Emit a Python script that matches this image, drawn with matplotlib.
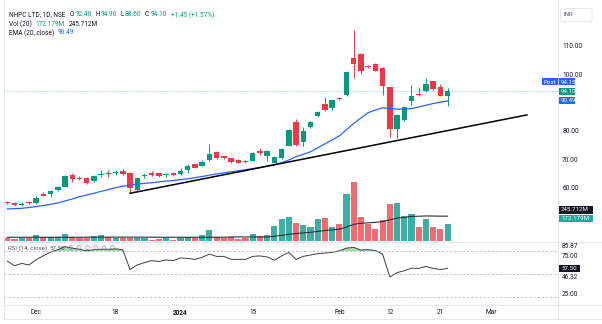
import matplotlib
matplotlib.use('Agg')
import matplotlib.pyplot as plt
from matplotlib.patches import Rectangle, FancyBboxPatch
import numpy as np

# daily candles, NHPC (NSE), Nov 24 2023 .. Feb 22 2024
opens = [55.0, 54.6, 53.9, 55.0, 54.6, 57.6, 57.6, 59.0, 60.3, 64.3,
         63.5, 63.5, 62.3, 64.6, 65.3, 65.3, 66.0, 65.3, 59.2, 64.1,
         65.3, 65.0, 64.5, 65.0, 64.8, 66.1, 68.2, 67.7, 69.7, 72.6,
         71.0, 70.3, 69.7, 69.5, 69.5, 72.9, 71.2, 68.8, 70.3, 74.8,
         83.2, 76.2, 81.2, 85.2, 89.4, 87.9, 91.7, 92.6, 105.5, 106.9,
         102.8, 103.6, 102.0, 95.3, 80.6, 83.8, 90.5, 93.0, 94.0, 97.4,
         95.5, 92.4]
highs = [55.4, 54.8, 55.1, 55.3, 57.0, 58.5, 59.1, 60.5, 64.4, 65.3,
         64.2, 63.8, 64.4, 66.3, 66.3, 66.3, 66.7, 65.6, 63.6, 65.2,
         66.0, 65.3, 65.3, 65.3, 66.8, 68.2, 68.4, 69.7, 75.2, 72.9,
         71.3, 70.6, 70.0, 69.7, 72.4, 74.0, 73.2, 71.2, 73.8, 80.6,
         84.0, 81.5, 83.4, 87.0, 91.8, 91.2, 91.9, 100.9, 115.5, 107.5,
         103.2, 103.9, 102.3, 95.6, 86.0, 88.6, 96.1, 95.5, 98.5, 97.7,
         96.4, 94.9]
lows = [54.3, 53.6, 53.7, 54.3, 54.4, 56.9, 56.8, 58.8, 60.1, 62.1,
        62.6, 61.3, 62.0, 63.8, 63.8, 64.6, 64.4, 58.0, 58.6, 63.4,
        64.2, 63.8, 63.9, 64.0, 64.6, 65.3, 66.8, 67.5, 69.5, 70.1,
        70.0, 68.5, 68.5, 68.7, 69.3, 71.4, 69.4, 68.5, 70.0, 74.5,
        74.6, 74.8, 81.0, 85.0, 87.0, 87.2, 91.0, 92.3, 98.5, 99.9,
        102.1, 100.9, 92.6, 77.7, 77.4, 83.5, 89.1, 92.2, 93.7, 94.3,
        92.1, 88.6]
closes = [54.6, 53.8, 54.4, 54.5, 56.2, 57.1, 58.8, 60.1, 64.1, 63.0,
          63.0, 61.7, 64.1, 64.8, 64.8, 65.5, 64.7, 59.8, 63.3, 64.6,
          64.6, 64.0, 64.7, 64.3, 66.0, 67.7, 67.0, 69.1, 71.8, 70.4,
          70.3, 68.9, 68.8, 68.9, 72.2, 72.3, 72.9, 70.9, 73.5, 80.3,
          75.0, 80.0, 83.1, 86.7, 87.3, 90.8, 91.2, 100.6, 103.4, 101.1,
          102.4, 101.2, 95.9, 80.6, 85.6, 88.3, 92.3, 92.5, 96.6, 94.6,
          92.4, 94.1]
volumes = [27, 23, 33, 27, 62, 40, 40, 40, 66, 40,
           33, 33, 50, 62, 40, 27, 33, 33, 33, 30,
           13, 16, 30, 13, 33, 40, 26, 56, 112, 40,
           26, 40, 20, 33, 66, 46, 56, 149, 215, 241,
           175, 160, 139, 221, 231, 139, 171, 470, 580, 235,
           165, 114, 211, 370, 378, 245, 270, 135, 215, 135,
           115, 172]  # millions
vol_ma = [37, 37, 37, 37, 37, 37, 37, 37, 37, 37,
          37, 38, 38, 38, 38, 38, 38, 38, 38, 38,
          38, 37, 37, 37, 37, 37, 37, 37, 37, 37,
          37, 40, 40, 40, 40, 40, 40, 47, 56, 66,
          74, 80, 86, 95, 104, 110, 117, 138, 165, 175,
          180, 184, 193, 210, 226, 234, 244, 245, 248, 247,
          246, 246]
ema20 = [52.5, 52.6, 52.7, 53.0, 53.3, 53.7, 54.1, 54.6, 55.3, 56.0,
         56.8, 57.4, 58.0, 58.7, 59.3, 60.0, 60.5, 60.9, 61.2, 61.5,
         61.7, 62.0, 62.3, 62.5, 62.8, 63.1, 63.5, 63.9, 64.4, 64.8,
         65.2, 65.6, 65.9, 66.3, 66.7, 67.1, 67.6, 68.1, 68.8, 69.7,
         70.9, 71.7, 72.6, 74.0, 75.4, 76.8, 78.2, 80.4, 82.6, 84.5,
         86.4, 87.3, 88.1, 87.9, 87.6, 87.7, 87.8, 88.4, 89.0, 89.6,
         90.1, 90.5]
rsi = [67, 61, 64, 62, 69, 74, 79, 82, 85.9, 84,
       82.5, 80.5, 82, 82.5, 82.5, 83, 82, 56, 62, 65,
       67.7, 66.5, 68.5, 67.7, 71.3, 70.5, 69.3, 72, 76.3, 73.2,
       73.2, 69.3, 69.3, 69.3, 73.2, 73.8, 72.5, 68.2, 73.8, 78.4,
       69.3, 73.2, 75, 76.8, 77.5, 78.4, 80.5, 84, 85, 81.5,
       82, 81, 76, 46.3, 52, 54.5, 57.8, 57.5, 60, 57.5,
       56, 57.5]
trend_idx = [17, 72]
trend_price = [58.0, 85.6]
date_ticks = [4, 15, 24, 34, 46, 53, 60, 67]
date_labels = ['Dec', '18', '2024', '15', 'Feb', '12', '21', 'Mar']
price_ticks = [60, 70, 80, 100, 110]
rsi_ticks = [25, 75]

GREEN = '#089981'
RED = '#f23645'
BLUE = '#2962ff'
DARK = '#131722'
GRID = '#e0e3eb'
FS = 4.7

plt.rcParams['font.family'] = ['Roboto', 'DejaVu Sans']

W, H = 602, 324
fig = plt.figure(figsize=(W / 100, H / 100), dpi=100)


def fx(x):
    return x / W


def fy(y):
    return 1 - y / H


ax = fig.add_axes([fx(4), fy(241), 554 / W, 241 / H])
vax = ax.twinx()
rax = fig.add_axes([fx(4), fy(305), 554 / W, 63 / H])
ax.set_zorder(2)
ax.patch.set_visible(False)
vax.set_zorder(1)

idx = np.arange(len(closes))
o = np.array(opens)
c = np.array(closes)
up = c >= o
cols = np.where(up, GREEN, RED)

# volume
vax.bar(idx, volumes, width=0.85, color=np.where(up, '#26a69a', '#f05a63'), alpha=0.9)
vax.plot(idx, vol_ma, color='#2a2e39', lw=0.8)
vax.set_ylim(0, 2386)
vax.set_yticks([])

# candles
ax.vlines(idx, lows, highs, colors=cols, lw=0.7)
body = np.maximum(np.abs(c - o), 0.15)
ax.bar(idx, body, bottom=np.minimum(o, c), width=0.75, color=cols)
ax.plot(idx, ema20, color=BLUE, lw=0.9)
ax.plot(trend_idx, trend_price, color='black', lw=1.1)
ax.axhline(94.15, color=BLUE, lw=0.6, alpha=0.6, linestyle=(0, (1, 2)))

ax.set_xlim(-0.46, 76.3)
vax.set_xlim(-0.46, 76.3)
ax.set_ylim(41.2, 126.06)
ax.set_xticks([])
ax.yaxis.tick_right()
ax.set_yticks(price_ticks)
ax.set_yticklabels([f'{v:.2f}' for v in price_ticks])
ax.tick_params(axis='y', length=0, pad=3, labelsize=FS, labelcolor=DARK)

# RSI
rax.plot(idx, rsi, color='#3c3f47', lw=0.7)
r = np.array(rsi)
rax.fill_between(idx, r, 80, where=r > 80, interpolate=True, color='#7fd08c', alpha=0.7, lw=0)
for lvl in [80, 50, 20]:
    rax.axhline(lvl, color='#a0a4ad', lw=0.5, linestyle=(0, (3, 3)))
rax.set_xlim(-0.46, 76.3)
rax.set_ylim(9.7, 92.0)
rax.yaxis.tick_right()
rax.set_yticks(rsi_ticks)
rax.set_yticklabels([f'{v:.2f}' for v in rsi_ticks])
rax.tick_params(axis='y', length=0, pad=3, labelsize=FS, labelcolor=DARK)
rax.set_xticks(date_ticks)
rax.set_xticklabels(date_labels)
rax.tick_params(axis='x', length=0, pad=3, labelsize=FS, labelcolor=DARK)
rax.get_xticklabels()[2].set_fontweight('bold')

for a in (ax, vax, rax):
    for s in a.spines.values():
        s.set_visible(False)

# pane separators
for y in (241.5, 305, 319):
    fig.add_artist(plt.Line2D([fx(4), fx(602)], [fy(y), fy(y)], color=GRID, lw=0.6))
for x in (4, 558):
    fig.add_artist(plt.Line2D([fx(x), fx(x)], [fy(0), fy(319)], color=GRID, lw=0.6))

renderer = fig.canvas.get_renderer()


def seq_text(x, y, parts, size=FS):
    for s, col, gap in parts:
        t = fig.text(fx(x), fy(y), s, color=col, fontsize=size, va='center', ha='left')
        x += t.get_window_extent(renderer).width + gap


seq_text(9, 15, [('NHPC LTD, 1D, NSE', DARK, 4), ('O', DARK, 1.6), ('92.40', GREEN, 3.5),
                 ('H', DARK, 0.8), ('94.90', GREEN, 3.5), ('L', DARK, 0.8), ('88.60', GREEN, 3.5),
                 ('C', DARK, 1.6), ('94.10', GREEN, 3.5), ('+1.45 (+1.57%)', GREEN, 0)])
seq_text(9, 24, [('Vol (20)', DARK, 4), ('172.179M', GREEN, 4), ('245.712M', DARK, 0)])
seq_text(9, 33, [('EMA (20, close)', DARK, 4), ('90.49', BLUE, 0)])
seq_text(8, 248.5, [('RSI (14, close)', '#50535e', 2.5), ('57.50', '#50535e', 2.5),
                    ('\u2205  \u2205  \u2205  \u2205  \u2205  \u2205', '#787b86', 0)], size=FS - 0.3)


def box(x0, x1, y0, y1, fc):
    fig.add_artist(Rectangle((fx(x0), fy(y1)), fx(x1 - x0), (y1 - y0) / H,
                             transform=fig.transFigure, fc=fc, ec='none'))


def box_text(x, y, s, col='white'):
    fig.text(fx(x), fy(y), s, color=col, fontsize=FS - 0.3, va='center', ha='left')


box(541.7, 574.5, 78.5, 85.5, BLUE)
box_text(543.5, 82, 'Post')
box_text(561, 82, '94.15')
box(559, 574.5, 87.5, 94.7, GREEN)
box_text(561, 91.1, '94.10')
box(559, 574.5, 97, 104, BLUE)
box_text(561, 100.5, '90.49')
box(559, 592.7, 205.5, 213.5, '#131722')
box_text(561, 209.5, '245.712M')
box(559, 592.7, 214.5, 222, '#26a69a')
box_text(561, 218.3, '172.179M')
box(558.5, 580, 264.7, 272, '#131722')
box_text(561, 268.4, '57.50')

fig.text(fx(562), fy(246.5), '85.87', color=DARK, fontsize=FS, va='center', ha='left')
fig.text(fx(562), fy(277.5), '46.32', color=DARK, fontsize=FS, va='center', ha='left')

fig.add_artist(FancyBboxPatch((fx(560.5), fy(21.5)), fx(31.5), 13 / H,
                              boxstyle='round,pad=0,rounding_size=0.006',
                              transform=fig.transFigure, fc='white', ec=GRID, lw=0.6))
fig.text(fx(563.5), fy(15), 'INR', color='#50535e', fontsize=FS - 0.3, va='center', ha='left')

fig.savefig('out.png', dpi=100)
